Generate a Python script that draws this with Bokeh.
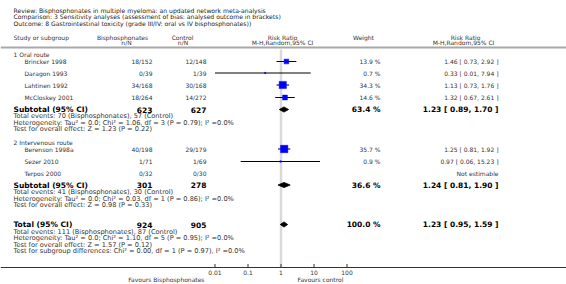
from bokeh.plotting import figure
from bokeh.models import ColumnDataSource, Range1d, LogScale
from bokeh.core.properties import value
from bokeh.embed import file_html
from bokeh.resources import INLINE
import math

# ---------------- data ----------------
title_lines = [
    "Review:  Bisphosphonates in multiple myeloma: an updated network meta-analysis",
    "Comparison:  3 Sensitivity analyses (assessment of bias: analysed outcome in brackets)",
    "Outcome:  8 Gastrointestinal toxicity (grade III/IV: oral vs IV bisphosphonates))",
]
subgroups = ["1 Oral route", "2 Intervenous route"]
studies = ["Brincker 1998", "Daragon 1993", "Lahtinen 1992", "McCloskey 2001",
           "Berenson 1998a", "Sezer 2010", "Terpos 2000"]
bis_events = [18, 0, 34, 18, 40, 1, 0]
bis_total = [152, 39, 168, 264, 198, 71, 32]
ctl_events = [12, 1, 30, 14, 29, 1, 0]
ctl_total = [148, 39, 168, 272, 179, 69, 30]
weights = [13.9, 0.7, 34.3, 14.6, 35.7, 0.9, None]
rr = [1.46, 0.33, 1.13, 1.32, 1.25, 0.97, None]
rr_lo = [0.73, 0.01, 0.73, 0.67, 0.81, 0.06, None]
rr_hi = [2.92, 7.94, 1.76, 2.61, 1.92, 15.23, None]

pooled_names = ["Subtotal (95% CI)", "Subtotal (95% CI)", "Total (95% CI)"]
pooled_bis = [623, 301, 924]
pooled_ctl = [627, 278, 905]
pooled_weight = [63.4, 36.6, 100.0]
pooled_rr = [1.23, 1.24, 1.23]
pooled_lo = [0.89, 0.81, 0.95]
pooled_hi = [1.70, 1.90, 1.59]
pooled_notes = [
    ["Total events: 70 (Bisphosphonates), 57 (Control)",
     "Heterogeneity: Tau\u00b2 = 0.0; Chi\u00b2 = 1.06, df = 3 (P = 0.79); I\u00b2 =0.0%",
     "Test for overall effect: Z = 1.23 (P = 0.22)"],
    ["Total events: 41 (Bisphosphonates), 30 (Control)",
     "Heterogeneity: Tau\u00b2 = 0.0; Chi\u00b2 = 0.03, df = 1 (P = 0.86); I\u00b2 =0.0%",
     "Test for overall effect: Z = 0.98 (P = 0.33)"],
    ["Total events: 111 (Bisphosphonates), 87 (Control)",
     "Heterogeneity: Tau\u00b2 = 0.0; Chi\u00b2 = 1.10, df = 5 (P = 0.95); I\u00b2 =0.0%",
     "Test for overall effect: Z = 1.57 (P = 0.12)",
     "Test for subgroup differences: Chi\u00b2 = 0.00, df = 1 (P = 0.97), I\u00b2 =0.0%"],
]
axis_ticks = [0.01, 0.1, 1, 10, 100]
axis_tick_labels = ["0.01", "0.1", "1", "10", "100"]
null_effect = [1.0]
favours_labels = ["Favours Bisphosphonates", "Favours control"]

# ---------------- layout ----------------
W, H = 566, 284
AXIS_Y = 267
FONT = value("DejaVu Sans")
TXT = "#333333"

title_y = [9.5, 16.0, 22.5]
header_y1, header_y2 = 36.5, 41.8
sep_y = 47.0
group_y = [54.0, 142.0]
study_y = [61, 72.5, 84.5, 97, 148.5, 161, 173]
pooled_y = [109, 184.5, 224]
note_y = [[115.5, 122, 128.5], [191.5, 198, 204.5], [231, 237.5, 244, 250.5]]

X_NAME_OUT = 13
X_NAME_IN = 24
X_BIS = 152
X_CTL = 206
X_WT = 380
X_RR = 498

p = figure(width=W, height=H, output_backend="svg", toolbar_location=None,
           x_range=Range1d(0, W), y_range=Range1d(H, 0),
           x_axis_location=None, y_axis_location=None,
           min_border_left=0, min_border_right=0, min_border_top=0, min_border_bottom=0)
p.outline_line_color = None
p.grid.visible = False
p.background_fill_color = "white"
p.border_fill_color = "white"

# log scale for the risk ratio; 1 at 280.5 px, 33 px per decade
centre, dec = 280.5, 33.0
p.extra_x_ranges = {"rr": Range1d(10 ** (-centre / dec), 10 ** ((W - centre) / dec))}
p.extra_x_scales = {"rr": LogScale()}


def texts(xs, ys, labels, align="left", size="6px", bold=False, color=TXT, rng="default"):
    src = ColumnDataSource(dict(x=xs, y=ys, text=labels))
    p.text(x="x", y="y", text="text", source=src, text_font=FONT,
           text_font_size=size, text_align=align, text_baseline="middle",
           text_color=color, text_font_style="bold" if bold else "normal",
           x_range_name=rng)

# title block
texts([X_NAME_OUT] * 3, title_y, title_lines, size="6.1px", color="#222222")
# headers
texts([X_NAME_OUT], [header_y1], ["Study or subgroup"])
texts([122, 182, 282, 363, 465], [header_y1] * 5,
      ["Bisphosphonates", "Control", "Risk Ratio", "Weight", "Risk Ratio"], align="center")
texts([126, 182.5, 282, 463], [header_y2] * 4,
      ["n/N", "n/N", "M-H,Random,95% CI", "M-H,Random,95% CI"], align="center")
p.segment(x0=[0], y0=[sep_y], x1=[W], y1=[sep_y], line_color="#a8a8a8", line_width=2)

# null-effect line
p.segment(x0=null_effect, y0=[sep_y + 2], x1=null_effect, y1=[AXIS_Y],
          x_range_name="rr", line_color="#d9d9d9", line_width=2.5)

# risk-ratio axis (log scale), drawn in the frame
p.segment(x0=[0], y0=[AXIS_Y], x1=[W], y1=[AXIS_Y], line_color="#333333", line_width=1)
p.segment(x0=axis_ticks, y0=[AXIS_Y - 3.5] * len(axis_ticks), x1=axis_ticks,
          y1=[AXIS_Y] * len(axis_ticks), x_range_name="rr", line_color="#333333", line_width=1)
texts(axis_ticks, [AXIS_Y + 5] * len(axis_ticks), axis_tick_labels, align="center", rng="rr")
texts([204], [278.5], [favours_labels[0]], align="right")
texts([297], [278.5], [favours_labels[1]], align="left")

# subgroup headings
texts([X_NAME_OUT] * 2, group_y, subgroups)

# studies
texts([X_NAME_IN] * len(studies), study_y, studies)
texts([X_BIS] * len(studies), study_y,
      [f"{e}/{n}" for e, n in zip(bis_events, bis_total)], align="right")
texts([X_CTL] * len(studies), study_y,
      [f"{e}/{n}" for e, n in zip(ctl_events, ctl_total)], align="right")
est_idx = [i for i in range(len(studies)) if rr[i] is not None]
texts([X_WT] * len(est_idx), [study_y[i] for i in est_idx],
      [f"{weights[i]:.1f} %" for i in est_idx], align="right")
texts([X_RR] * len(studies), study_y,
      [f"{rr[i]:.2f} [ {rr_lo[i]:.2f}, {rr_hi[i]:.2f} ]" if rr[i] is not None else "Not estimable"
       for i in range(len(studies))], align="right")

ci_src = ColumnDataSource(dict(
    lo=[rr_lo[i] for i in est_idx], hi=[rr_hi[i] for i in est_idx],
    y=[study_y[i] for i in est_idx], est=[rr[i] for i in est_idx],
    size=[1.18 * math.sqrt(weights[i]) + 0.3 for i in est_idx]))
p.segment(x0="lo", y0="y", x1="hi", y1="y", source=ci_src, x_range_name="rr",
          line_color="black", line_width=1)
p.scatter(x="est", y="y", size="size", marker="square", source=ci_src, x_range_name="rr",
          fill_color="#0000ff", line_color="#0000ff", line_width=0.5)

# pooled rows
texts([X_NAME_OUT] * 3, pooled_y, pooled_names, size="7.5px", bold=True, color="black")
texts([X_BIS] * 3, pooled_y, [str(v) for v in pooled_bis], align="right", size="7.5px", bold=True, color="black")
texts([X_CTL] * 3, pooled_y, [str(v) for v in pooled_ctl], align="right", size="7.5px", bold=True, color="black")
texts([X_WT] * 3, pooled_y, [f"{w:.1f} %" for w in pooled_weight], align="right", size="7.5px", bold=True, color="black")
texts([X_RR] * 3, pooled_y,
      [f"{e:.2f} [ {l:.2f}, {h:.2f} ]" for e, l, h in zip(pooled_rr, pooled_lo, pooled_hi)],
      align="right", size="7.5px", bold=True, color="black")

dh = 2.6
p.patches(xs=[[l, e, h, e] for e, l, h in zip(pooled_rr, pooled_lo, pooled_hi)],
          ys=[[y, y - dh, y, y + dh] for y in pooled_y],
          x_range_name="rr", fill_color="black", line_color="black", line_width=0.8)

for notes, ys in zip(pooled_notes, note_y):
    texts([X_NAME_OUT] * len(notes), ys, notes, size="6.6px")

open("out.html", "w").write(file_html(p, INLINE))
